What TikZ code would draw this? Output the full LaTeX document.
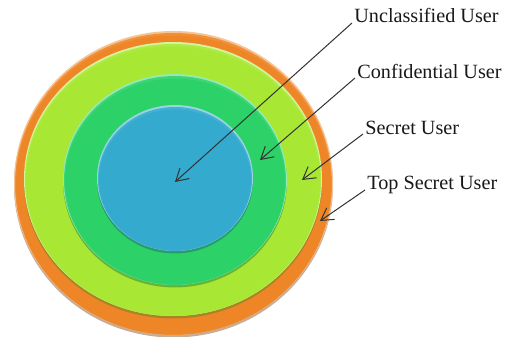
\documentclass[tikz,border=0pt]{standalone}
\usepackage{fontspec}
\setmainfont{Liberation Serif}
\usetikzlibrary{arrows.meta}
\definecolor{ringOrange}{RGB}{238,134,40}
\definecolor{ringLime}{RGB}{168,232,52}
\definecolor{ringGreen}{RGB}{44,210,104}
\definecolor{ringBlue}{RGB}{52,170,206}
\tikzset{
  lbl/.style={anchor=base west, inner sep=1pt, font=\fontsize{10.1}{12}\selectfont, text=black!90},
  ptr/.style={-{Straight Barb[length=6pt,width=7pt]}, line width=0.5pt, draw=black!80}
}
% one bevelled disc: shadow below, light rim on top, body
\newcommand{\Disc}[5]{% #1=colour, #2/#3=centre, #4/#5=radii
  \fill[#1!55!black, opacity=0.45] (#2,#3+2.5) ellipse ({#4} and {#5});
  \fill[#1!50!white] (#2,#3) ellipse ({#4} and {#5});
  \fill[#1!92!white] (#2,#3+1) ellipse ({#4-1} and {#5-1});
  \fill[#1] (#2,#3+2) ellipse ({#4-2} and {#5-2.5});
}

\begin{document}
\begin{tikzpicture}[x=0.5pt, y=-0.5pt]
  \useasboundingbox[fill=white] (0,0) rectangle (505,337);
  % rings, outermost first
  \Disc{ringOrange}{173.5}{183}{159.5}{152}
  \Disc{ringLime}{173}{179}{149}{137}
  \Disc{ringGreen}{175}{179.5}{112}{105.5}
  \Disc{ringBlue}{175}{178}{78}{73}
  % where the pointers land
  \coordinate (tipU) at (175,182);
  \coordinate (tipC) at (260,160);
  \coordinate (tipS) at (302,180);
  \coordinate (tipT) at (320,221);
  % labels
  \node[lbl] (lblU) at (352,23) {Unclassified User};
  \node[lbl] (lblC) at (355,78) {Confidential User};
  \node[lbl] (lblS) at (363,134) {Secret User};
  \node[lbl] (lblT) at (365,190) {Top Secret User};
  % pointers
  \draw[ptr] (lblU.base west) -- (tipU);
  \draw[ptr] (lblC.base west) -- (tipC);
  \draw[ptr] (lblS.base west) -- (tipS);
  \draw[ptr] (lblT.base west) -- (tipT);
\end{tikzpicture}
\end{document}
